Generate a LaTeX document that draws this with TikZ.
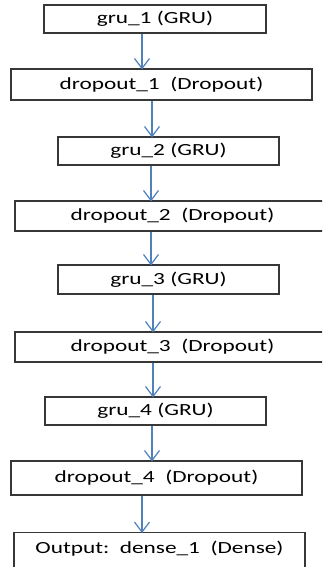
\documentclass[tikz,border=0pt]{standalone}
\usepackage{fontspec}
\setmainfont{Carlito}
\definecolor{arrblue}{RGB}{79,129,189}
\definecolor{boxline}{RGB}{55,55,55}
\newcommand{\lbl}[1]{\scalebox{1.37}[1]{#1}}
\tikzset{
  box/.style={draw=boxline, line width=1.1pt, fill=white, inner sep=0pt,
    font=\fontsize{17}{20}\selectfont, text=black},
  arr/.style={draw=arrblue, line width=1.2pt},
  chev/.style={draw=arrblue, line width=1.2pt, line join=miter}
}
\newcommand{\link}[3]{%
  \draw[arr] (#1.south -| #3,0) -- (#2.north -| #3,0);
  \draw[chev] (#2.north -| #3,0) ++(-7.5,-10) -- ++(7.5,10) -- ++(7.5,-10);}
\begin{document}
\begin{tikzpicture}[x=1pt,y=-1pt]
\useasboundingbox (0,0) rectangle (322,567);
\clip (0,0) rectangle (322,567);
\fill[white] (0,0) rectangle (322,567);
\node[box, minimum width=222pt, minimum height=28pt] (g1) at (155,19) {\lbl{gru\_1 (GRU)}};
\node[box, minimum width=301pt, minimum height=31pt] (d1) at (161.5,84.5) {\lbl{dropout\_1\ \ (Dropout)}};
\node[box, minimum width=221pt, minimum height=28pt] (g2) at (168.5,151) {\lbl{gru\_2 (GRU)}};
\node[box, minimum width=315pt, minimum height=30pt] (d2) at (172.5,216) {\lbl{dropout\_2\ \ (Dropout)}};
\node[box, minimum width=221pt, minimum height=29pt] (g3) at (168.5,279.5) {\lbl{gru\_3 (GRU)}};
\node[box, minimum width=315pt, minimum height=30pt] (d3) at (172.5,347) {\lbl{dropout\_3\ \ (Dropout)}};
\node[box, minimum width=221pt, minimum height=28pt] (g4) at (155.5,411) {\lbl{gru\_4 (GRU)}};
\node[box, minimum width=291pt, minimum height=34pt] (d4) at (156.5,478) {\lbl{dropout\_4\ \ (Dropout)}};
\node[box, minimum width=291pt, minimum height=48pt, anchor=north] (o1) at (159.5,532) {};
\node[font=\fontsize{17}{20}\selectfont, text=black, inner sep=0pt] (o1t) at (159.5,549) {\lbl{Output:\ \ dense\_1\ \ (Dense)}};
\link{g1}{d1}{142}
\link{d1}{g2}{152}
\link{g2}{d2}{151}
\link{d2}{g3}{151}
\link{g3}{d3}{153}
\link{d3}{g4}{153}
\link{g4}{d4}{152}
\link{d4}{o1}{142}
\end{tikzpicture}
\end{document}
